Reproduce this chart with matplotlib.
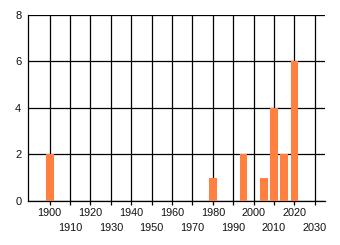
import matplotlib
matplotlib.use("Agg")
import matplotlib.pyplot as plt

# valores
anos = [1900, 1980, 1995, 2005, 2010, 2015, 2020]
contagem = [2, 1, 2, 1, 4, 2, 6]
ticks_pares = [1900, 1920, 1940, 1960, 1980, 2000, 2020]
ticks_impares = [1910, 1930, 1950, 1970, 1990, 2010, 2030]
ticks_y = [0, 2, 4, 6, 8]

plt.rcParams['font.family'] = ['Liberation Sans', 'DejaVu Sans']

fig = plt.figure(figsize=(3.4, 2.45), dpi=100)
ax = fig.add_axes([0.083, 0.180, 0.873, 0.759])

ax.bar(anos, contagem, width=3.8, color='#FF8040', zorder=3)

ax.set_xlim(1889.5, 2035)
ax.set_ylim(0, 8)
ax.set_xticks(ticks_pares)
ax.set_xticks(ticks_impares, minor=True)
ax.set_xticklabels([str(t) for t in ticks_pares])
ax.set_xticklabels([str(t) for t in ticks_impares], minor=True)
ax.set_yticks(ticks_y)

ax.grid(True, which='both', color='black', linewidth=0.9, zorder=1)
ax.set_axisbelow(True)

ax.tick_params(axis='x', which='both', length=3, width=0.9, direction='out',
               labelsize=7.8, pad=2, labelcolor='#111111')
ax.tick_params(axis='x', which='minor', pad=13)
ax.tick_params(axis='y', length=0, labelsize=8, pad=5, labelcolor='#111111')

for lado in ['top', 'right']:
    ax.spines[lado].set_visible(False)
for lado in ['left', 'bottom']:
    ax.spines[lado].set_color('black')
    ax.spines[lado].set_linewidth(0.9)

fig.savefig('out.png', dpi=100)
